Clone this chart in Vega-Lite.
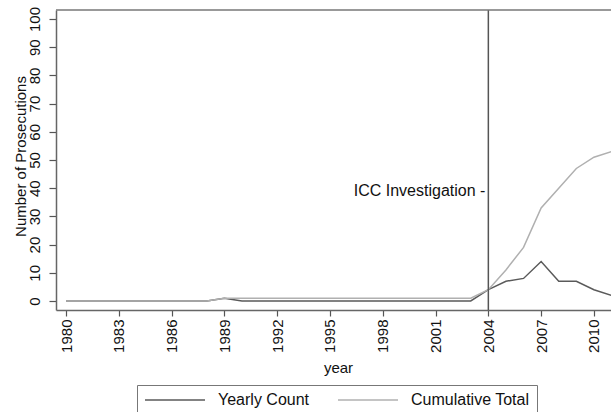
{
  "$schema": "https://vega.github.io/schema/vega-lite/v6.json",
  "width": 555,
  "height": 300,
  "autosize": {"type": "none"},
  "padding": {"left": 56, "top": 10, "right": 0, "bottom": 102},
  "background": "white",
  "config": {
    "font": "Liberation Sans",
    "view": {"stroke": null},
    "axis": {
      "labelFont": "Liberation Sans",
      "titleFont": "Liberation Sans",
      "labelFontSize": 15,
      "titleFontSize": 15,
      "labelColor": "#111",
      "titleColor": "#111",
      "titleFontWeight": "normal",
      "domainColor": "#666",
      "domainWidth": 1.5,
      "tickColor": "#555",
      "tickWidth": 1.2,
      "grid": false
    },
    "legend": {
      "labelFont": "Liberation Sans",
      "labelFontSize": 16,
      "labelColor": "#111"
    }
  },
  "datasets": {
    "series": [
      {"year": 1980, "series": "Yearly Count", "value": 0},
      {"year": 1981, "series": "Yearly Count", "value": 0},
      {"year": 1982, "series": "Yearly Count", "value": 0},
      {"year": 1983, "series": "Yearly Count", "value": 0},
      {"year": 1984, "series": "Yearly Count", "value": 0},
      {"year": 1985, "series": "Yearly Count", "value": 0},
      {"year": 1986, "series": "Yearly Count", "value": 0},
      {"year": 1987, "series": "Yearly Count", "value": 0},
      {"year": 1988, "series": "Yearly Count", "value": 0},
      {"year": 1989, "series": "Yearly Count", "value": 1},
      {"year": 1990, "series": "Yearly Count", "value": 0},
      {"year": 1991, "series": "Yearly Count", "value": 0},
      {"year": 1992, "series": "Yearly Count", "value": 0},
      {"year": 1993, "series": "Yearly Count", "value": 0},
      {"year": 1994, "series": "Yearly Count", "value": 0},
      {"year": 1995, "series": "Yearly Count", "value": 0},
      {"year": 1996, "series": "Yearly Count", "value": 0},
      {"year": 1997, "series": "Yearly Count", "value": 0},
      {"year": 1998, "series": "Yearly Count", "value": 0},
      {"year": 1999, "series": "Yearly Count", "value": 0},
      {"year": 2000, "series": "Yearly Count", "value": 0},
      {"year": 2001, "series": "Yearly Count", "value": 0},
      {"year": 2002, "series": "Yearly Count", "value": 0},
      {"year": 2003, "series": "Yearly Count", "value": 0},
      {"year": 2004, "series": "Yearly Count", "value": 4},
      {"year": 2005, "series": "Yearly Count", "value": 7},
      {"year": 2006, "series": "Yearly Count", "value": 8},
      {"year": 2007, "series": "Yearly Count", "value": 14},
      {"year": 2008, "series": "Yearly Count", "value": 7},
      {"year": 2009, "series": "Yearly Count", "value": 7},
      {"year": 2010, "series": "Yearly Count", "value": 4},
      {"year": 2011, "series": "Yearly Count", "value": 2},
      {"year": 1980, "series": "Cumulative Total", "value": 0},
      {"year": 1981, "series": "Cumulative Total", "value": 0},
      {"year": 1982, "series": "Cumulative Total", "value": 0},
      {"year": 1983, "series": "Cumulative Total", "value": 0},
      {"year": 1984, "series": "Cumulative Total", "value": 0},
      {"year": 1985, "series": "Cumulative Total", "value": 0},
      {"year": 1986, "series": "Cumulative Total", "value": 0},
      {"year": 1987, "series": "Cumulative Total", "value": 0},
      {"year": 1988, "series": "Cumulative Total", "value": 0},
      {"year": 1989, "series": "Cumulative Total", "value": 1},
      {"year": 1990, "series": "Cumulative Total", "value": 1},
      {"year": 1991, "series": "Cumulative Total", "value": 1},
      {"year": 1992, "series": "Cumulative Total", "value": 1},
      {"year": 1993, "series": "Cumulative Total", "value": 1},
      {"year": 1994, "series": "Cumulative Total", "value": 1},
      {"year": 1995, "series": "Cumulative Total", "value": 1},
      {"year": 1996, "series": "Cumulative Total", "value": 1},
      {"year": 1997, "series": "Cumulative Total", "value": 1},
      {"year": 1998, "series": "Cumulative Total", "value": 1},
      {"year": 1999, "series": "Cumulative Total", "value": 1},
      {"year": 2000, "series": "Cumulative Total", "value": 1},
      {"year": 2001, "series": "Cumulative Total", "value": 1},
      {"year": 2002, "series": "Cumulative Total", "value": 1},
      {"year": 2003, "series": "Cumulative Total", "value": 1},
      {"year": 2004, "series": "Cumulative Total", "value": 4},
      {"year": 2005, "series": "Cumulative Total", "value": 11},
      {"year": 2006, "series": "Cumulative Total", "value": 19},
      {"year": 2007, "series": "Cumulative Total", "value": 33},
      {"year": 2008, "series": "Cumulative Total", "value": 40},
      {"year": 2009, "series": "Cumulative Total", "value": 47},
      {"year": 2010, "series": "Cumulative Total", "value": 51},
      {"year": 2011, "series": "Cumulative Total", "value": 53}
    ],
    "annot": [
      {"year": 2004, "value": 39, "top": 103.2, "label": "ICC Investigation -"}
    ]
  },
  "encoding": {
    "x": {
      "field": "year",
      "type": "quantitative",
      "scale": {"domain": [1979.43, 2010.97], "nice": false, "zero": false},
      "axis": {
        "values": [1980, 1983, 1986, 1989, 1992, 1995, 1998, 2001, 2004, 2007, 2010],
        "format": "d",
        "labelAngle": -90,
        "labelAlign": "right",
        "labelBaseline": "middle",
        "labelOverlap": false,
        "tickSize": 6,
        "labelPadding": 3,
        "title": "year",
        "titleX": 282,
        "titleY": 62,
        "titleAlign": "center",
        "titleBaseline": "alphabetic"
      }
    },
    "y": {
      "field": "value",
      "type": "quantitative",
      "scale": {"domain": [-3.2, 103.2], "nice": false, "zero": false},
      "axis": {
        "values": [0, 10, 20, 30, 40, 50, 60, 70, 80, 90, 100],
        "labelAngle": -90,
        "labelAlign": "center",
        "labelBaseline": "alphabetic",
        "labelOverlap": false,
        "labelBound": false,
        "tickSize": 7,
        "labelPadding": 10,
        "title": "Number of Prosecutions",
        "titleAngle": -90,
        "titleX": -31,
        "titleY": 146,
        "titleAlign": "center",
        "titleBaseline": "alphabetic"
      }
    }
  },
  "layer": [
    {
      "data": {"name": "series"},
      "mark": {"type": "line", "strokeWidth": 1.5, "clip": true},
      "encoding": {
        "color": {
          "field": "series",
          "type": "nominal",
          "scale": {"domain": ["Yearly Count", "Cumulative Total"], "range": ["#5a5a5a", "#b0b0b0"]},
          "legend": {
            "title": null,
            "orient": "none",
            "legendX": 81,
            "legendY": 375,
            "direction": "horizontal",
            "columns": 2,
            "strokeColor": "#777",
            "fillColor": "white",
            "padding": 7,
            "symbolType": "M-6,0H6",
            "symbolSize": 100,
            "symbolOffset": 23,
            "symbolStrokeWidth": 1.5,
            "labelOffset": 35,
            "columnPadding": 25,
            "labelLimit": 300
          }
        }
      }
    },
    {
      "data": {"name": "annot"},
      "mark": {"type": "rule", "color": "#555", "strokeWidth": 1.5},
      "encoding": {"y": null}
    },
    {
      "data": {"name": "annot"},
      "mark": {"type": "rule", "color": "#777", "strokeWidth": 1.5},
      "encoding": {"x": null, "y": {"field": "top", "type": "quantitative"}}
    },
    {
      "data": {"name": "annot"},
      "mark": {"type": "text", "align": "right", "baseline": "middle", "dx": -3, "fontSize": 16, "font": "Liberation Sans", "color": "#111"},
      "encoding": {
        "text": {"field": "label"}
      }
    }
  ]
}
